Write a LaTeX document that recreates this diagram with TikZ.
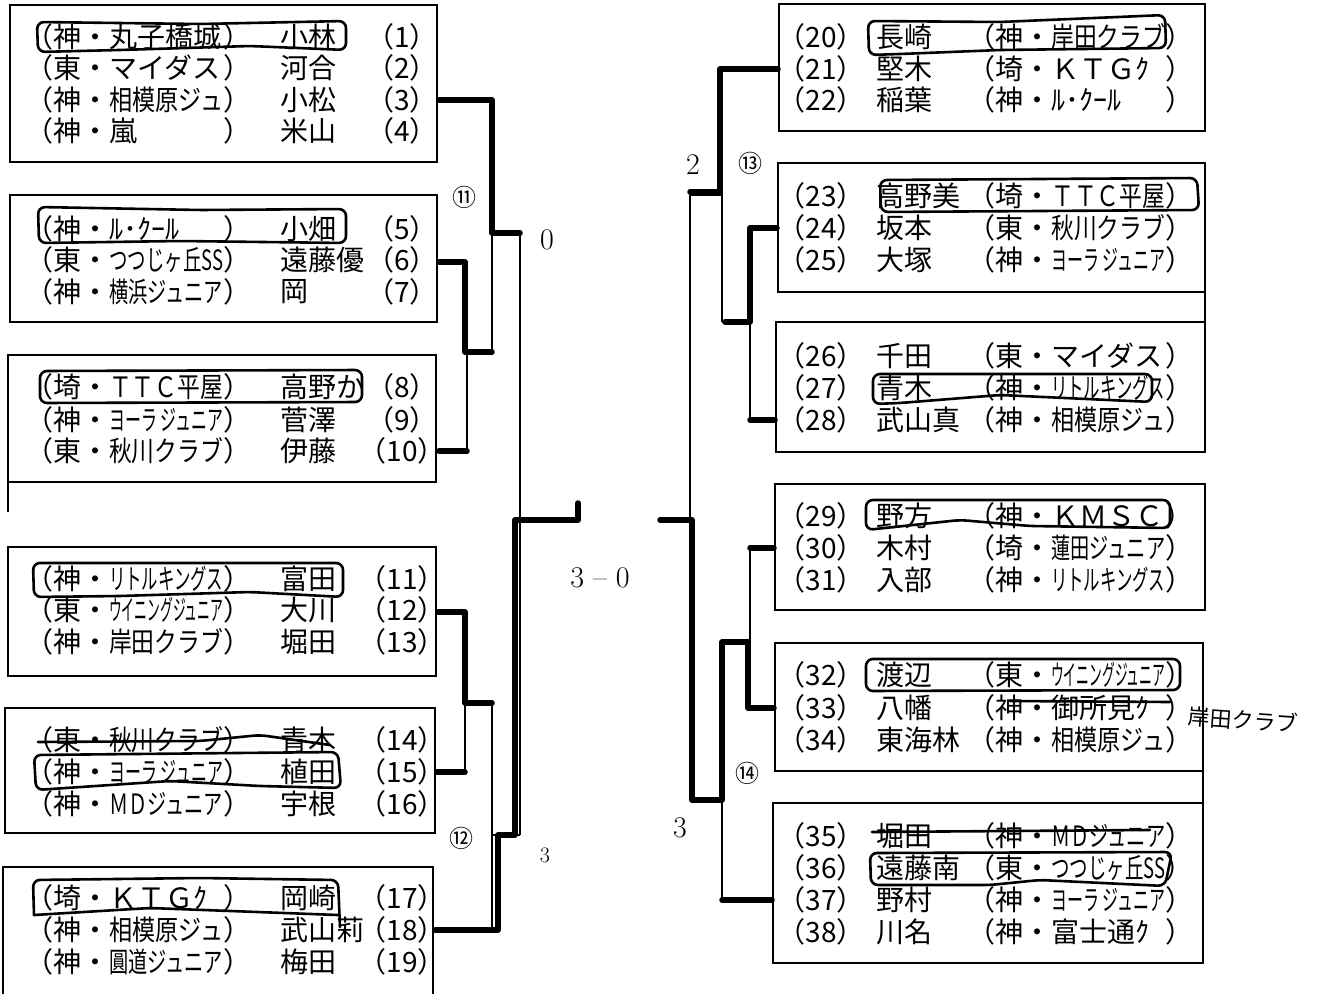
\documentclass[tikz,border=0pt]{standalone}
\usepackage{fontspec}
\usepackage{graphicx}
\newfontfamily\jp{Noto Sans CJK JP}
\newsavebox\clubbox
\newcommand\club[1]{\sbox\clubbox{#1}\ifdim\wd\clubbox>114pt\resizebox{114pt}{\height}{\usebox\clubbox}\else\makebox[114pt][l]{\usebox\clubbox}\fi}
\tikzset{
  txt/.style={font=\jp\fontsize{28}{32}\selectfont, inner sep=0pt, anchor=west},
  numst/.style={font=\jp\fontsize{28}{32}\selectfont, inner sep=0pt, anchor=center},
  boxline/.style={line width=1.3pt},
  thinline/.style={line width=1.2pt},
  thickline/.style={line width=5.5pt, line cap=round, line join=round},
  hand/.style={line width=2.6pt, line cap=round, line join=round, rounded corners=7pt},
  handlbl/.style={font=\fontsize{30}{32}\selectfont, inner sep=0pt},
  circlbl/.style={font=\jp\fontsize{24}{26}\selectfont, inner sep=0pt}
}
\newcommand\Lrow[5]{%
  \node[txt] (t#1) at (25,#2) {（#3・\club{#4}）};
  \node[txt] (n#1) at (280,#2) {#5};
  \node[numst] (k#1) at (402,#2) {（#1）};}
\newcommand\Rrow[5]{%
  \node[numst] (k#1) at (821,#2) {（#1）};
  \node[txt] (n#1) at (876,#2) {#3};
  \node[txt] (t#1) at (967,#2) {（#4・\club{#5}）};}
\begin{document}
\begin{tikzpicture}[x=1pt,y=-1pt]
\useasboundingbox (0,0) rectangle (1322,993);
\fill[white] (0,0) rectangle (1322,993);
% boxes left
\draw[boxline] (10,5) rectangle (437,162);
\draw[boxline] (10,195) rectangle (437,322);
\draw[boxline] (8,355) rectangle (436,482);
\draw[boxline] (8,482) -- (8,512);
\draw[boxline] (8,547) rectangle (436,676);
\draw[boxline] (5,708) rectangle (435,833);
\draw[boxline] (3,1000) -- (3,867) -- (433,867) -- (433,1000);
% boxes right
\draw[boxline] (779,4) rectangle (1205,131);
\draw[boxline] (778,163) rectangle (1205,292);
\draw[boxline] (1205,292) -- (1205,322);
\draw[boxline] (776,322) rectangle (1205,452);
\draw[boxline] (775,484) rectangle (1205,610);
\draw[boxline] (775,643) rectangle (1203,771);
\draw[boxline] (1203,771) -- (1203,803);
\draw[boxline] (773,803) rectangle (1203,963);
% rows left
\Lrow{1}{37}{神}{丸子橋城}{小林}
\Lrow{2}{68}{東}{マイダス}{河合}
\Lrow{3}{100}{神}{相模原ジュ}{小松}
\Lrow{4}{131}{神}{嵐}{米山}
\Lrow{5}{229}{神}{ﾙ･ｸｰﾙ}{小畑}
\Lrow{6}{260}{東}{つつじヶ丘SS}{遠藤優}
\Lrow{7}{292}{神}{横浜ジュニア}{岡}
\Lrow{8}{387}{埼}{ＴＴＣ平屋}{高野か}
\Lrow{9}{420}{神}{ヨーラ ジュニア}{菅澤}
\Lrow{10}{451}{東}{秋川クラブ}{伊藤}
\Lrow{11}{579}{神}{リトルキングス}{富田}
\Lrow{12}{610}{東}{ウイニングジュニア}{大川}
\Lrow{13}{642}{神}{岸田クラブ}{堀田}
\Lrow{14}{740}{東}{秋川クラブ}{青木}
\Lrow{15}{772}{神}{ヨーラ ジュニア}{植田}
\Lrow{16}{804}{神}{ＭＤジュニア}{宇根}
\Lrow{17}{898}{埼}{ＫＴＧｸ}{岡崎}
\Lrow{18}{930}{神}{相模原ジュ}{武山莉}
\Lrow{19}{962}{神}{圓道ジュニア}{梅田}
% rows right
\Rrow{20}{37}{長崎}{神}{岸田クラブ}
\Rrow{21}{69}{堅木}{埼}{ＫＴＧｸ}
\Rrow{22}{100}{稲葉}{神}{ﾙ･ｸｰﾙ}
\Rrow{23}{196}{高野美}{埼}{ＴＴＣ平屋}
\Rrow{24}{228}{坂本}{東}{秋川クラブ}
\Rrow{25}{260}{大塚}{神}{ヨーラ ジュニア}
\Rrow{26}{356}{千田}{東}{マイダス}
\Rrow{27}{388}{青木}{神}{リトルキングス}
\Rrow{28}{420}{武山真}{神}{相模原ジュ}
\Rrow{29}{516}{野方}{神}{ＫＭＳＣ}
\Rrow{30}{548}{木村}{埼}{蓮田ジュニア}
\Rrow{31}{580}{入部}{神}{リトルキングス}
\Rrow{32}{675}{渡辺}{東}{ウイニングジュニア}
\Rrow{33}{708}{八幡}{神}{御所見ｸ}
\Rrow{34}{740}{東海林}{神}{相模原ジュ}
\Rrow{35}{836}{堀田}{神}{ＭＤジュニア}
\Rrow{36}{868}{遠藤南}{東}{つつじヶ丘SS}
\Rrow{37}{900}{野村}{神}{ヨーラ ジュニア}
\Rrow{38}{932}{川名}{神}{富士通ｸ}
% thin bracket lines left
\draw[thinline] (437,262) -- (467,262) -- (467,451) -- (437,451);
\draw[thinline] (467,352) -- (492,352);
\draw[thinline] (437,100) -- (492,100) -- (492,352);
\draw[thinline] (492,233) -- (520,233);
\draw[thinline] (436,610) -- (465,610) -- (465,772) -- (435,772);
\draw[thinline] (465,703) -- (492,703);
\draw[thinline] (492,703) -- (492,930) -- (433,930);
\draw[thinline] (492,835) -- (520,835);
\draw[thinline] (520,233) -- (520,835);
\draw[thinline] (520,520) -- (578,520);
% thin bracket lines right
\draw[thinline] (778,228) -- (750,228) -- (750,420) -- (776,420);
\draw[thinline] (750,322) -- (722,322);
\draw[thinline] (779,69) -- (722,69) -- (722,322);
\draw[thinline] (722,195) -- (690,195);
\draw[thinline] (775,548) -- (750,548) -- (750,708) -- (775,708);
\draw[thinline] (750,640) -- (722,640);
\draw[thinline] (722,640) -- (722,900) -- (773,900);
\draw[thinline] (722,800) -- (690,800);
\draw[thinline] (690,195) -- (690,800);
\draw[thinline] (690,520) -- (660,520);
% thick hand-drawn winner lines left
\draw[thickline] (439,100) -- (492,100) -- (492,233) -- (520,233);
\draw[thickline] (439,262) -- (465,262) -- (465,352) -- (492,352);
\draw[thickline] (439,451) -- (467,451);
\draw[thickline] (438,612) -- (465,612) -- (465,703) -- (492,703);
\draw[thickline] (437,772) -- (465,772);
\draw[thickline] (435,930) -- (498,930) -- (498,835) -- (515,835) -- (515,520) -- (578,520) -- (578,503);
% thick right
\draw[thickline] (778,69) -- (720,69) -- (720,192) -- (690,192);
\draw[thickline] (777,228) -- (750,228) -- (750,322) -- (725,322);
\draw[thickline] (775,420) -- (750,420);
\draw[thickline] (774,548) -- (750,548);
\draw[thickline] (774,708) -- (748,708) -- (748,642) -- (722,642) -- (722,800) -- (692,800) -- (692,520) -- (660,520);
\draw[thickline] (772,900) -- (722,900);
% handwritten winner loops and strikes
\draw[hand] (38,52) -- (37,22) -- (200,24) -- (346,21) -- (346,50) -- (250,46) -- (120,50) -- cycle;
\draw[hand] (39,243) -- (38,207) -- (200,210) -- (346,209) -- (346,243) -- (180,241) -- cycle;
\draw[hand] (40,403) -- (40,371) -- (362,370) -- (362,402) -- cycle;
\draw[hand] (34,597) -- (33,563) -- (343,563) -- (343,597) -- (250,592) -- (120,596) -- cycle;
\draw[hand] (38,742) -- (200,741) -- (260,735) -- (330,745);
\draw[hand] (36,790) -- (34,755) -- (338,752) -- (341,788) -- (260,786) -- (170,781) -- cycle;
\draw[hand] (34,915) -- (33,880) -- (200,878) -- (338,880) -- (340,927);
\draw[hand] (34,915) -- (150,908) -- (338,915);
\draw[hand] (869,55) -- (868,21) -- (1000,22) -- (1165,15) -- (1166,48) -- (1000,50) -- (900,54) -- cycle;
\draw[hand] (881,212) -- (880,180) -- (1197,178) -- (1199,210) -- cycle;
\draw[hand] (873,404) -- (873,374) -- (1152,374) -- (1152,402) -- (1000,395) -- (900,403) -- cycle;
\draw[hand] (866,530) -- (866,500) -- (1170,500) -- (1170,528) -- (1030,526) -- (960,520) -- cycle;
\draw[hand] (866,691) -- (866,659) -- (1180,659) -- (1180,690) -- cycle;
\draw[hand] (1010,701) -- (1170,702);
\draw[hand] (872,832) -- (1150,830);
\draw[hand] (871,885) -- (870,853) -- (1172,852) -- (1165,886) -- (1040,880) -- (990,885) -- cycle;
% handwritten labels
\node[txt, font=\jp\fontsize{22}{24}\selectfont, rotate=-4] (hw) at (1188,716) {岸田クラブ};
\node[handlbl] (s0) at (547,240) {0};
\node[handlbl] (s30) at (600,578) {3 -- 0};
\node[handlbl, font=\fontsize{22}{24}\selectfont] (s3l) at (545,855) {3};
\node[handlbl] (s2) at (693,165) {2};
\node[handlbl] (s3r) at (680,828) {3};
\node[circlbl] (c11) at (464,197) {⑪};
\node[circlbl] (c12) at (461,838) {⑫};
\node[circlbl] (c13) at (750,163) {⑬};
\node[circlbl] (c14) at (747,773) {⑭};
\end{tikzpicture}
\end{document}
